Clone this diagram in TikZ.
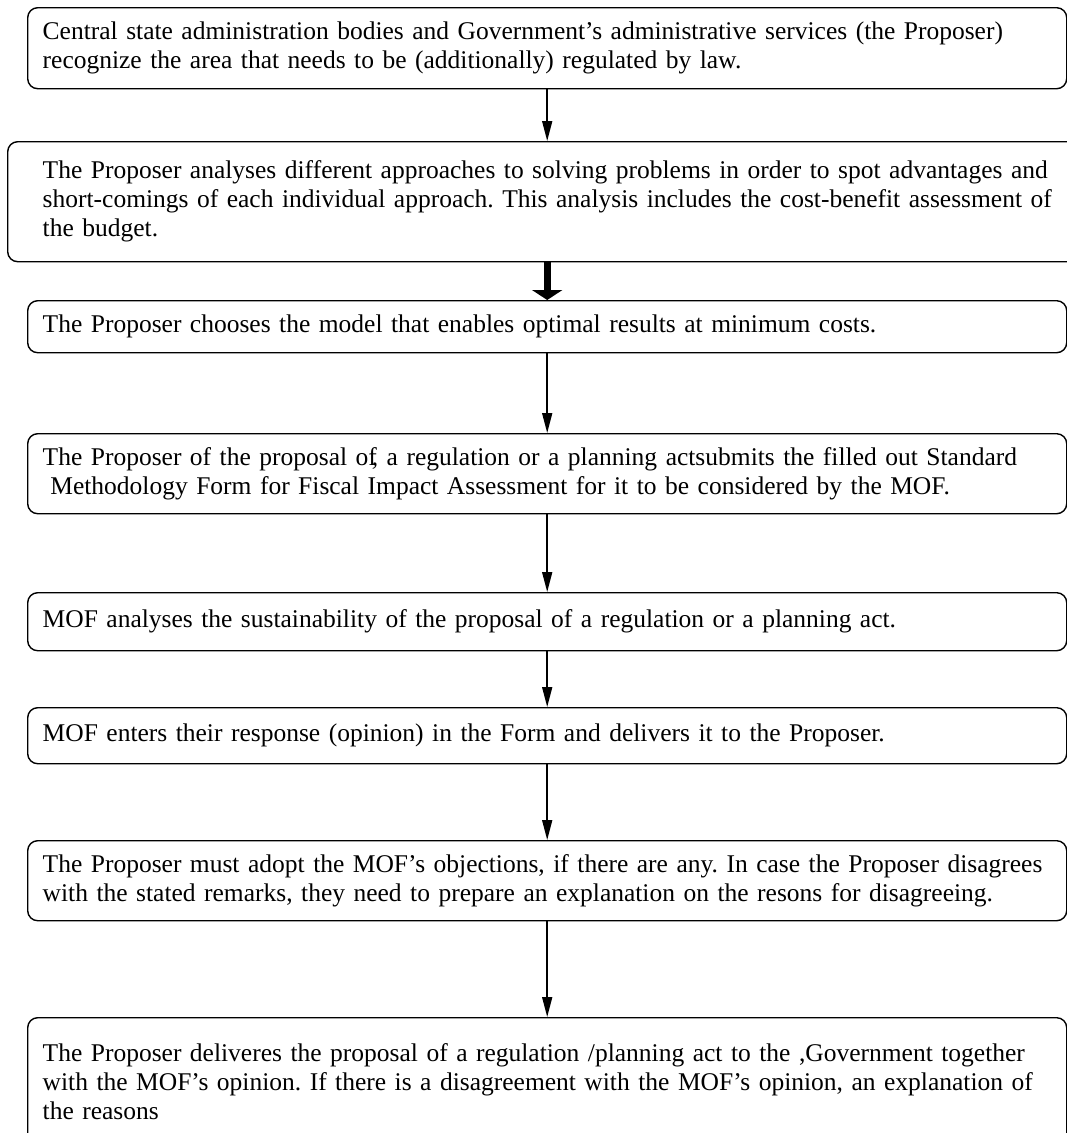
\documentclass[tikz,border=0pt]{standalone}
\usepackage{fontspec}
\setmainfont{Liberation Serif}
\usetikzlibrary{arrows.meta}
\frenchspacing

\begin{document}
\begin{tikzpicture}[
        x=1pt, y=-1pt,
        stepbox/.style={
            draw,
            rectangle,
            rounded corners=10pt,
            line width=1.4pt,
            anchor=north west,
            align=left,
            inner xsep=15pt,
            inner ysep=0pt,
            text width=1009pt,
            font=\fontsize{25.5}{29}\selectfont
        },
        link/.style={
            -{Triangle[width=10pt,length=20pt]},
            line width=1.6pt
        },
        biglink/.style={
            -{Triangle[width=30pt,length=10pt]},
            line width=7pt
        }
    ]
    
    \useasboundingbox (0,0) rectangle (1067,1133);
    \clip (0,0) rectangle (1067,1133);
    
    \node[stepbox, minimum height=81pt] (define) at (27,7)
        {Central state administration bodies and Government’s administrative services (the Proposer)\\
         recognize the area that needs to be (additionally) regulated by law.};
    \node[stepbox, minimum height=120pt, inner xsep=35pt, text width=1030pt] (analyse) at (7,141)
        {The Proposer analyses different approaches to solving problems in order to spot advantages and\\
         short-comings of each individual approach. This analysis includes the cost-benefit assessment of\\
         the budget.};
    \node[stepbox, minimum height=52pt] (choose) at (27,300)
        {The Proposer chooses the model that enables optimal results at minimum costs.};
    \node[stepbox, minimum height=80pt] (submit) at (27,433)
        {The Proposer of the proposal of\kern-.2em, a regulation or a planning actsubmits the filled out Standard\\
         \hspace*{.3em}Methodology Form for Fiscal Impact Assessment for it to be considered by the MOF.};
    \node[stepbox, minimum height=58pt] (check) at (27,592)
        {MOF analyses the sustainability of the proposal of a regulation or a planning act.};
    \node[stepbox, minimum height=56pt] (reply) at (27,707)
        {MOF enters their response (opinion) in the Form and delivers it to the Proposer.};
    \node[stepbox, minimum height=80pt] (adopt) at (27,840)
        {The Proposer must adopt the MOF’s objections, if there are any. In case the Proposer disagrees\\
         with the stated remarks, they need to prepare an explanation on the resons for disagreeing.};
    \node[stepbox, minimum height=128pt] (deliver) at (27,1017)
        {The Proposer deliveres the proposal of a regulation /planning act to the ,Government together\\
         with the MOF’s opinion. If there is a disagreement with the MOF’s opinion, an explanation of\\
         the reasons};
    
    \draw[link] (define.south) -- (define.south |- analyse.north);
    \draw[biglink] (analyse.south -| choose.north) -- (choose.north);
    \draw[link] (choose) -- (submit);
    \draw[link] (submit) -- (check);
    \draw[link] (check) -- (reply);
    \draw[link] (reply) -- (adopt);
    \draw[link] (adopt) -- (deliver);
    
\end{tikzpicture}
\end{document}
